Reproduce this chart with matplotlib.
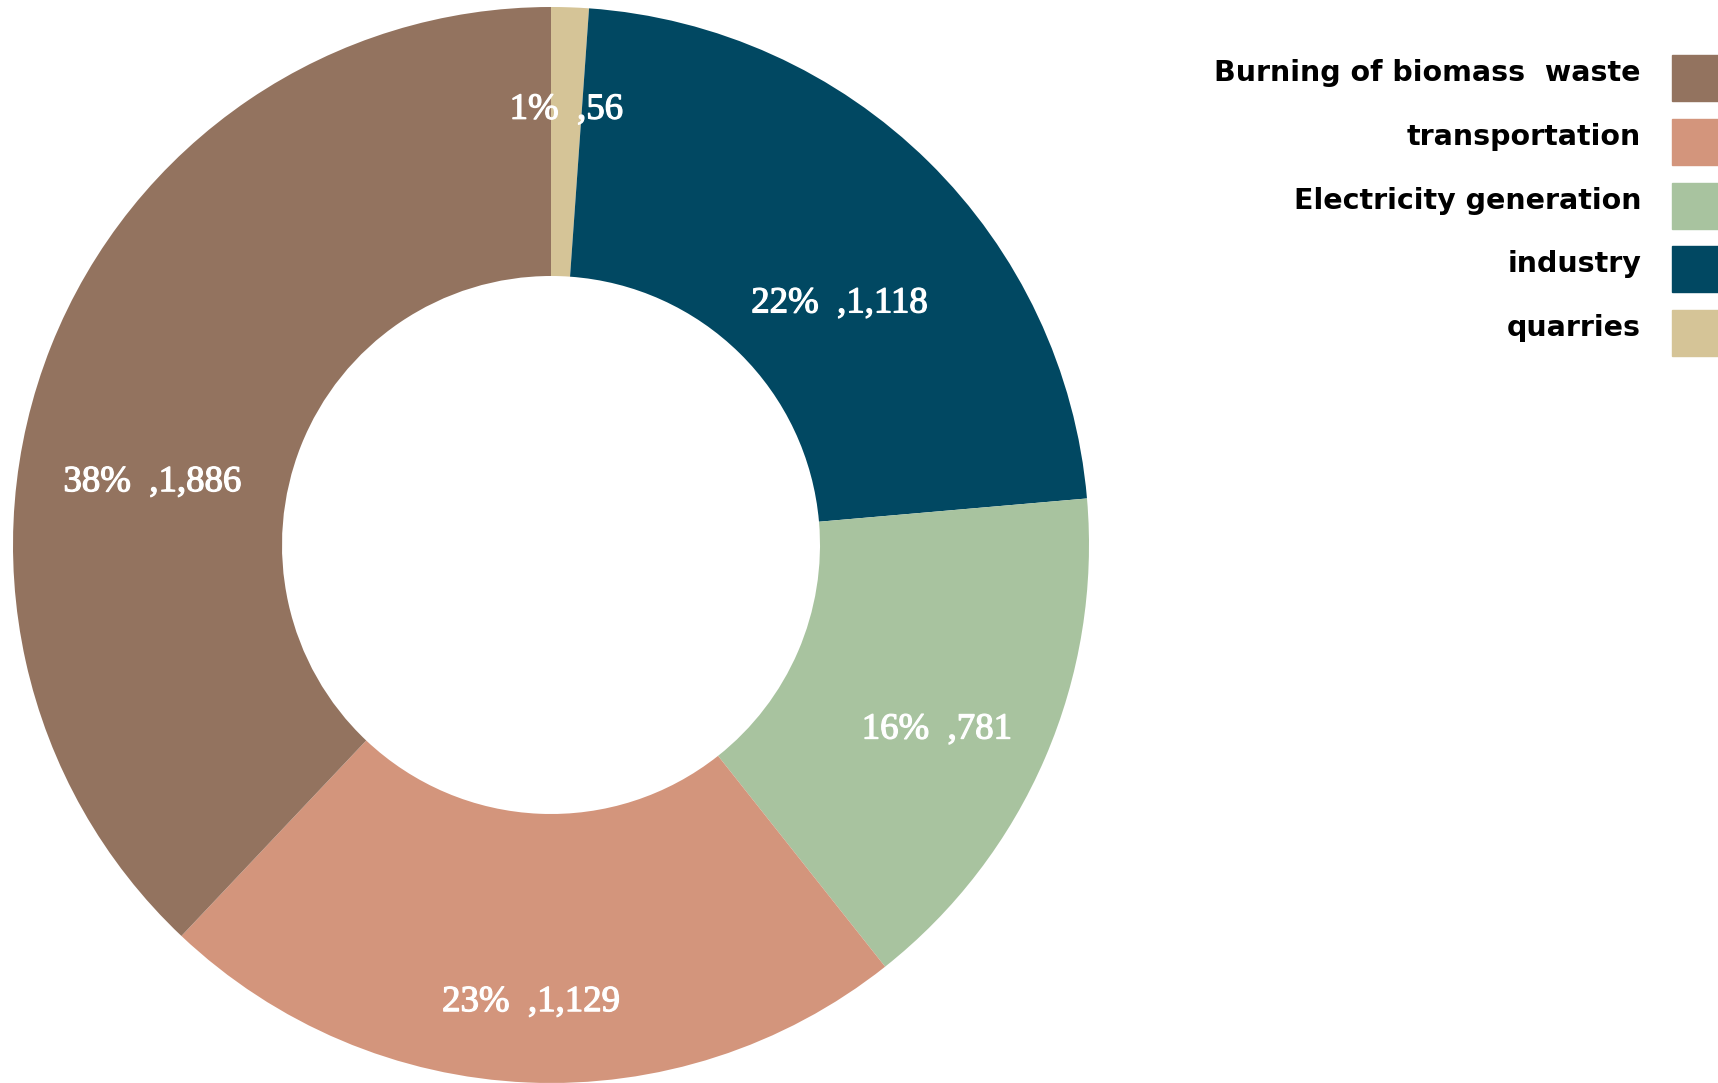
import matplotlib
matplotlib.use("Agg")
import matplotlib.pyplot as plt
import matplotlib.patheffects as pe
from matplotlib.patches import Rectangle
import numpy as np

# ============================================================
# data (pie order, clockwise from 12 o'clock)
# ============================================================
sources = ["quarries", "industry", "Electricity generation", "transportation", "Burning of biomass  waste"]
emissions = [56, 1118, 781, 1129, 1886]
colors = ["#D5C497", "#014862", "#A8C39F", "#D3957C", "#93735F"]

# legend order (top to bottom)
legend_order = ["Burning of biomass  waste", "transportation", "Electricity generation", "industry", "quarries"]

# label placement tweaks: radius (outer = 1) and angle shift in degrees (ccw)
label_radius = [0.81, 0.70, 0.795, 0.85, 0.75]
label_shift = [0, -5.5, -2.2, 0, 12.7]

W, H = 1718, 1083
fig = plt.figure(figsize=(W / 100, H / 100), dpi=100)

# donut axes: centre at (551, 545) px, outer radius 538 px
cx, cy, r = 551, 545, 538
ax = fig.add_axes([(cx - r) / W, (H - cy - r) / H, 2 * r / W, 2 * r / H])

wedges, _ = ax.pie(
    emissions,
    colors=colors,
    startangle=90,
    counterclock=False,
    radius=1,
    wedgeprops=dict(width=0.5, linewidth=0),
)
ax.set_xlim(-1, 1)
ax.set_ylim(-1, 1)
ax.set_aspect("equal")
ax.axis("off")

total = sum(emissions)
for w, v, rr, sh in zip(wedges, emissions, label_radius, label_shift):
    ang = np.deg2rad((w.theta1 + w.theta2) / 2 + sh)
    pct = round(v / total * 100)
    ax.text(rr * np.cos(ang), rr * np.sin(ang), f"{pct}%  ,{v:,}",
            ha="center", va="center", color="white", fontsize=26.5,
            family="Liberation Serif",
            path_effects=[pe.withStroke(linewidth=0.9, foreground="white")])

# legend drawn by hand: labels right-aligned, swatches at the right edge
color_of = dict(zip(sources, colors))
for i, name in enumerate(legend_order):
    yc = 78 + i * 63.8
    fig.add_artist(Rectangle(((1672) / W, 1 - (yc + 23) / H), 60 / W, 46 / H,
                             transform=fig.transFigure, color=color_of[name],
                             clip_on=False))
    fig.text(1641 / W, 1 - (yc - 5) / H, name, ha="right", va="center",
             fontsize=20.5, fontweight="bold", family="DejaVu Sans", color="black")

fig.savefig("out.png", dpi=100)
